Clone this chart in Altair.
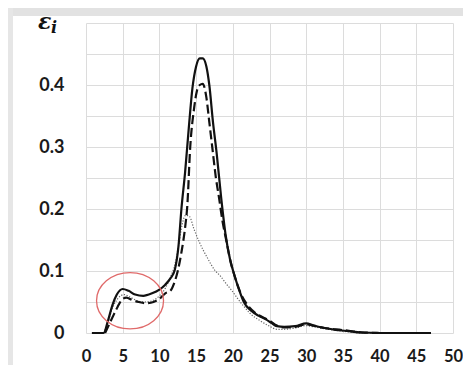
import altair as alt
import pandas as pd

# ---- data ----
solid_x = [0.8, 2.4, 3.0, 3.6, 4.2, 5.0, 5.8, 6.7, 7.8, 9.0, 10.0, 10.8, 11.5, 12.1, 12.6, 13.0, 13.5,
           14.0, 14.5, 15.0, 15.5, 15.9, 16.4, 16.8, 17.3, 17.8, 18.4, 19.0, 19.6, 20.3, 21.0, 21.5,
           22.5, 23.5, 24.5, 25.3, 26.0, 27.0, 28.5, 30.0, 31.0, 32.5, 34.0, 35.5, 37.5, 40.0, 47.0]
solid_y = [0.0, 0.0, 0.02, 0.045, 0.062, 0.071, 0.068, 0.062, 0.060, 0.064, 0.070, 0.078, 0.088, 0.102,
           0.14, 0.20, 0.259, 0.33, 0.395, 0.43, 0.443, 0.443, 0.43, 0.40, 0.34, 0.29, 0.22, 0.16, 0.12,
           0.09, 0.065, 0.05, 0.036, 0.028, 0.022, 0.016, 0.011, 0.010, 0.011, 0.0155, 0.012, 0.008,
           0.005, 0.0035, 0.0008, 0.0, 0.0]

dash_x = [2.6, 3.2, 3.8, 4.3, 5.0, 5.5, 6.3, 7.2, 8.2, 9.2, 10.2, 10.8, 11.5, 12.0, 12.5, 13.0, 13.5,
          13.8, 14.2, 14.7, 15.1, 15.5, 15.9, 16.4, 16.8, 17.2, 17.7, 18.1, 18.6, 19.1, 19.6, 20.3, 21.0,
          22.0, 23.0, 24.0, 25.0, 26.0, 27.0, 28.5, 30.0, 31.0, 32.5, 34.0, 35.5, 37.5, 40.0]
dash_y = [0.0, 0.015, 0.030, 0.042, 0.055, 0.057, 0.053, 0.050, 0.048, 0.050, 0.057, 0.064, 0.068,
          0.08, 0.10, 0.13, 0.17, 0.205, 0.30, 0.36, 0.39, 0.40, 0.402, 0.38, 0.34, 0.30, 0.25, 0.22,
          0.18, 0.15, 0.12, 0.09, 0.066, 0.045, 0.033, 0.026, 0.02, 0.012, 0.009, 0.010, 0.014, 0.012,
          0.008, 0.006, 0.004, 0.001, 0.0]

dot_x = [2.4, 3.0, 3.6, 4.3, 5.2, 6.0, 7.0, 8.0, 9.0, 10.0, 10.8, 11.5, 12.1, 12.6, 13.1, 13.6, 14.1,
         14.7, 15.5, 16.5, 17.5, 18.3, 19.2, 19.9, 20.7, 21.5, 22.5, 23.7, 25.0, 26.0, 27.0, 28.5, 30.0,
         31.0, 33.0, 35.0, 37.5, 40.0]
dot_y = [0.0, 0.018, 0.040, 0.055, 0.062, 0.058, 0.052, 0.050, 0.052, 0.060, 0.072, 0.090, 0.11, 0.14,
         0.175, 0.19, 0.188, 0.168, 0.145, 0.122, 0.102, 0.092, 0.078, 0.068, 0.055, 0.043, 0.030, 0.020,
         0.011, 0.006, 0.006, 0.008, 0.012, 0.010, 0.006, 0.003, 0.0, 0.0]

x_ticks = [0, 5, 10, 15, 20, 25, 30, 35, 40, 45, 50]
y_grid = [0, 0.05, 0.1, 0.15, 0.2, 0.25, 0.3, 0.35, 0.4, 0.45, 0.5]

circle_x = [6.0]
circle_y = [0.052]

solid = pd.DataFrame({"x": solid_x, "y": solid_y})
dashed = pd.DataFrame({"x": dash_x, "y": dash_y})
dotted = pd.DataFrame({"x": dot_x, "y": dot_y})
circ = pd.DataFrame({"x": circle_x, "y": circle_y})
one = pd.DataFrame({"a": [0]})

W, H = 367, 310
FONT = "Lato"

X = alt.X("x:Q", scale=alt.Scale(domain=[0, 50], nice=False),
          axis=alt.Axis(values=x_ticks, title=None, labelFont=FONT, labelFontSize=16.5,
                        labelFontWeight="bold", labelColor="#1a1a1a", ticks=False, tickSize=0,
                        labelPadding=15, domain=False, grid=True, gridColor="#dcdcdc",
                        labelFlush=False))
Y = alt.Y("y:Q", scale=alt.Scale(domain=[0, 0.5], nice=False),
          axis=alt.Axis(values=y_grid, title=None, labelFont=FONT, labelFontSize=18,
                        labelFontWeight="bold", labelColor="#1a1a1a", ticks=False, tickSize=0,
                        labelPadding=22, domain=False, grid=True, gridColor="#dcdcdc",
                        labelFlush=False,
                        labelExpr="datum.value == 0 ? '0' : (abs(datum.value*10 - round(datum.value*10)) < 0.001 && datum.value < 0.45 ? format(datum.value, '.1f') : '')"))

# gray frame bands of the screenshot (decoration)
band_top = alt.Chart(one).mark_rect(color="#e2e2e2", clip=False).encode(
    x=alt.value(-78), x2=alt.value(W + 10), y=alt.value(-15), y2=alt.value(-7))
band_left = alt.Chart(one).mark_rect(color="#e6e6e6", clip=False).encode(
    x=alt.value(-78), x2=alt.value(-73), y=alt.value(-15), y2=alt.value(H + 32))

l_dot = alt.Chart(dotted).mark_line(color="#666666", strokeWidth=1.2, strokeDash=[1.2, 1.6],
                                    interpolate="monotone").encode(x=X, y=Y)
l_dash = alt.Chart(dashed).mark_line(color="#111111", strokeWidth=2.2, strokeDash=[9, 4],
                                     interpolate="monotone").encode(x=X, y=Y)
l_solid = alt.Chart(solid).mark_line(color="#111111", strokeWidth=2.2,
                                     interpolate="monotone").encode(x=X, y=Y)

ellipse_path = ("M-1,0 C-1,-0.464 -0.552,-0.84 0,-0.84 C0.552,-0.84 1,-0.464 1,0 "
                "C1,0.464 0.552,0.84 0,0.84 C-0.552,0.84 -1,0.464 -1,0 Z")
ring = alt.Chart(circ).mark_point(shape=ellipse_path, size=4489, filled=False,
                                  color="#e06a6a", strokeWidth=1.3, opacity=1).encode(x=X, y=Y)

eps = alt.Chart(one).mark_text(text="ε", font="DejaVu Serif", fontStyle="italic",
                               fontWeight="bold", fontSize=22, align="left", baseline="alphabetic",
                               color="#111111").encode(x=alt.value(-48), y=alt.value(6))
sub_i = alt.Chart(one).mark_text(text="i", font="DejaVu Serif", fontStyle="italic",
                                 fontWeight="bold", fontSize=16, align="left", baseline="alphabetic",
                                 color="#111111").encode(x=alt.value(-35), y=alt.value(10))

chart = alt.layer(band_top, band_left, l_dot, l_dash, l_solid, ring, eps, sub_i).properties(
    width=W, height=H,
    background="white",
    padding={"left": 78, "top": 15, "right": 10, "bottom": 32},
    autosize=alt.AutoSizeParams(type="none"),
).configure_view(stroke=None)

chart.save("out.html", embed_options={"renderer": "svg", "actions": False})
